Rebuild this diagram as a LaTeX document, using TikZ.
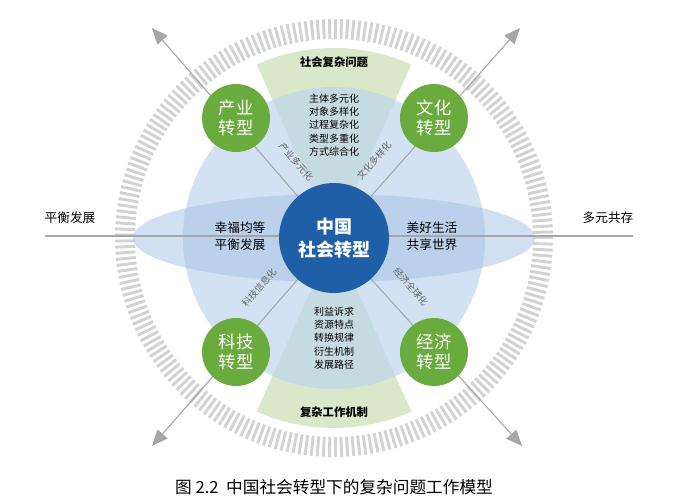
\documentclass[tikz,border=0pt]{standalone}
\usepackage{fontspec}
\setmainfont{Noto Sans CJK SC}
\usetikzlibrary{arrows.meta,calc}
\definecolor{cblue}{HTML}{1F5FA8}
\definecolor{cgreen}{HTML}{6AAB3D}
\definecolor{disk}{HTML}{BFD5EE}
\definecolor{ell}{HTML}{A9C4E6}
\definecolor{wedge}{HTML}{D8E8C8}
\tikzset{
  green circ/.style={circle,fill=cgreen,minimum size=68pt*0.75,text=white,font=\fontsize{13}{15}\selectfont,align=center,inner sep=0},
  axis/.style={draw=gray!70,line width=0.8pt},
  arr/.style={axis,-{Triangle[length=12pt,width=10pt]},draw=gray!70},
  lbl/.style={font=\fontsize{7}{8}\selectfont,text=gray!80!black,inner sep=1pt},
  list/.style={font=\fontsize{7.5}{10}\selectfont,align=center},
  head/.style={font=\bfseries\fontsize{8.5}{10}\selectfont},
  side/.style={font=\fontsize{9.5}{13}\selectfont,align=center},
}
\begin{document}
\begin{tikzpicture}[x=0.75pt,y=-0.75pt]
\useasboundingbox (0,0) rectangle (684,500);
\coordinate (c) at (334,238);
% tick ring
\foreach \a in {0,1.6,...,358.5}
  \draw[gray!35,line width=2.2pt] ($(c)+(\a:199)$) -- ($(c)+(\a:219)$);
% wedges
\fill[wedge] (c) -- ($(c)+(66:190)$) arc[start angle=66,end angle=114,radius=190] -- cycle;
\fill[wedge] (c) -- ($(c)+(246:190)$) arc[start angle=246,end angle=294,radius=190] -- cycle;
% disk and ellipse
\fill[disk,opacity=0.7] (c) circle[radius=151];
\fill[ell,opacity=0.55] (c) ellipse[x radius=201,y radius=44];
% axes
\coordinate (L) at (45,236); \coordinate (R) at (633,236);
\draw[axis] (L) -- (R);
\coordinate (tl) at (152,28); \coordinate (tr) at (520,28);
\coordinate (bl) at (152,446); \coordinate (br) at (522,446);
\draw[arr] (c) -- (tl);
\draw[arr] (c) -- (tr);
\draw[arr] (c) -- (bl);
\draw[arr] (c) -- (br);
% circles
\node[circle,fill=cblue,minimum size=110pt*0.75,text=white,font=\bfseries\fontsize{13.5}{17}\selectfont,align=center] (center) at (c) {中国\\社会转型};
\node[green circ] (g1) at (236,118) {产业\\转型};
\node[green circ] (g2) at (434,118) {文化\\转型};
\node[green circ] (g3) at (236,352) {科技\\转型};
\node[green circ] (g4) at (434,352) {经济\\转型};
% texts
\node[head] (h1) at (334,62) {社会复杂问题};
\node[head] (h2) at (334,412) {复杂工作机制};
\node[list] (l1) at (334,125) {主体多元化\\对象多样化\\过程复杂化\\类型多重化\\方式综合化};
\node[list] (l2) at (334,338) {利益诉求\\资源特点\\转换规律\\衍生机制\\发展路径};
\node[side] (s1) at (240,236) {幸福均等\\平衡发展};
\node[side] (s2) at (432,236) {美好生活\\共享世界};
\node[side] (t1) at (70,218) {平衡发展};
\node[side] (t2) at (608,218) {多元共存};
\node[lbl,rotate=-49] (d1) at (296,162) {产业多元化};
\node[lbl,rotate=49] (d2) at (374,161) {文化多样化};
\node[lbl,rotate=49] (d3) at (259,288) {科技信息化};
\node[lbl,rotate=-49] (d4) at (411,287) {经济全球化};
\node[font=\fontsize{12.5}{14}\selectfont] (cap) at (334,487) {图 2.2\ \ 中国社会转型下的复杂问题工作模型};
\end{tikzpicture}
\end{document}
